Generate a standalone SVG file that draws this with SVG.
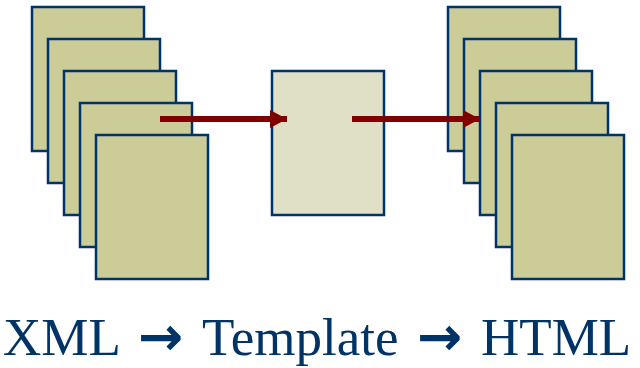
<svg xmlns="http://www.w3.org/2000/svg" width="640" height="368" viewBox="0 0 640 368">
<style>
.page{fill:#CCCC99;stroke:#003366;stroke-width:2.5}
.tpl{fill:#E0E0C6;stroke:#003366;stroke-width:2.5}
.conn{stroke:#800000;stroke-width:6;fill:none}
.lbl{font-family:"Liberation Serif","Times New Roman",serif;font-size:53px;fill:#003366}
.arr{font-family:"DejaVu Sans",sans-serif;font-weight:bold;font-size:54px}
</style>
<defs>
<marker id="ah" markerUnits="userSpaceOnUse" markerWidth="18" markerHeight="18" refX="17" refY="9" orient="auto">
<path d="M0,0 L17,9 L0,18 Z" fill="#800000"/>
</marker>
</defs>
<g id="xml-stack">
<rect class="page" x="32" y="7" width="112" height="144"/>
<rect class="page" x="48" y="39" width="112" height="144"/>
<rect class="page" x="64" y="71" width="112" height="144"/>
<rect class="page" x="80" y="103" width="112" height="144"/>
<rect class="page" x="96" y="135" width="112" height="144"/>
</g>
<g id="template">
<rect class="tpl" x="272" y="71" width="112" height="144"/>
</g>
<g id="html-stack">
<rect class="page" x="448" y="7" width="112" height="144"/>
<rect class="page" x="464" y="39" width="112" height="144"/>
<rect class="page" x="480" y="71" width="112" height="144"/>
<rect class="page" x="496" y="103" width="112" height="144"/>
<rect class="page" x="512" y="135" width="112" height="144"/>
</g>
<g id="connectors">
<line class="conn" x1="160" y1="119" x2="287" y2="119" marker-end="url(#ah)"/>
<line class="conn" x1="352" y1="119" x2="480" y2="119" marker-end="url(#ah)"/>
</g>
<g id="caption">
<text class="lbl" x="3" y="355">XML <tspan class="arr" x="138">→</tspan> <tspan x="202">Template</tspan> <tspan class="arr" x="417">→</tspan> <tspan x="481">HTML</tspan></text>
</g>
</svg>
